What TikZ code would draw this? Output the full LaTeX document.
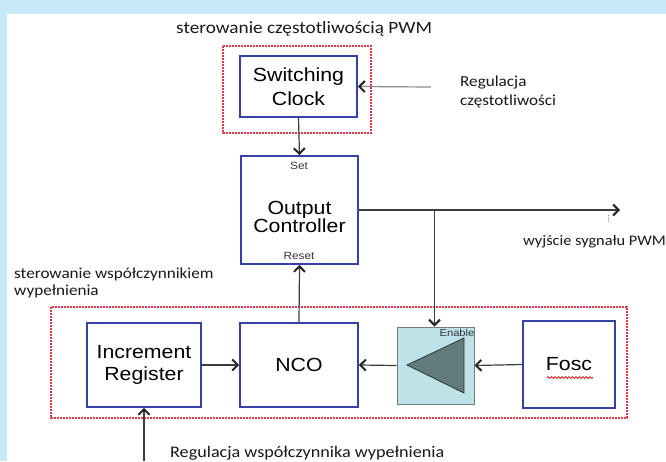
\documentclass[tikz,border=0pt]{standalone}
\usepackage{fontspec}
\setmainfont{Liberation Sans}
\newfontfamily\boxfont[FakeStretch=1.12]{Liberation Sans}
\newfontfamily\notefont[FakeStretch=1.12]{Carlito}
\usetikzlibrary{arrows.meta,decorations.pathmorphing}

\definecolor{bgblue}{RGB}{199,233,248}
\definecolor{boxblue}{RGB}{55,65,165}
\definecolor{groupred}{RGB}{232,55,65}
\definecolor{linkgray}{RGB}{60,60,60}
\definecolor{feedgray}{RGB}{140,140,140}
\definecolor{ampfill}{RGB}{190,226,232}
\definecolor{ampedge}{RGB}{110,125,125}
\definecolor{trifill}{RGB}{98,124,124}
\definecolor{tridark}{RGB}{45,55,55}
\definecolor{notetext}{RGB}{25,25,25}

\begin{document}
\begin{tikzpicture}[x=1pt,y=-1pt,
  block/.style={draw=boxblue, line width=1.8pt, fill=white, inner sep=0pt,
    align=center, text=black},
  blocktext/.style={font=\boxfont\fontsize{19}{#1}\selectfont},
  group/.style={draw=groupred, line width=1.8pt, dash pattern=on 2pt off 1pt},
  link/.style={draw=linkgray, line width=1.2pt,
    -{Straight Barb[length=5.5pt,width=11pt,line width=2pt,color=black!85]}},
  note/.style={font=\notefont\fontsize{#1}{18}\selectfont, text=notetext,
    inner sep=0pt, anchor=base west},
  tag/.style={font=\boxfont\fontsize{10.5}{12}\selectfont, text=black!80,
    inner sep=0pt}]

% page background and frame
\fill[bgblue] (0,0) rectangle (666,461);
\fill[white] (7,14) rectangle (666,461);
\useasboundingbox (0,0) rectangle (666,461);

% dashed group frames
\draw[group] (223,46) rectangle (371,133);
\draw[group] (51,307) rectangle (627,418);

% blocks
\node[block, blocktext=24, minimum width=117pt, minimum height=61pt]
  (clk) at (298.5,86.5) {Switching\\Clock};
\node[block, minimum width=117pt, minimum height=108pt]
  (oc) at (299.5,210) {};
\node[blocktext=17, align=center, inner sep=0pt] (octxt) at (299.5,217)
  {Output\\Controller};
\node[tag] (set) at (299,166) {Set};
\node[tag] (reset) at (299,256) {Reset};

\node[block, blocktext=21.3, minimum width=114pt, minimum height=84pt]
  (ir) at (144,365) {Increment\\Register};
\node[block, blocktext=21, minimum width=118pt, minimum height=84pt]
  (nco) at (299,365) {NCO};
\node[block, blocktext=21, minimum width=92pt, minimum height=87pt]
  (fosc) at (569,364.5) {Fosc};

% enable gate
\node[draw=ampedge, fill=ampfill, line width=1pt, minimum width=77pt,
  minimum height=77pt, inner sep=0pt] (en) at (435.5,365.5) {};
\filldraw[fill=trifill, draw=tridark, line width=0.8pt]
  (407,365) -- (464,338) -- (464,393) -- cycle;
\node[tag, text=tridark, font=\boxfont\fontsize{10}{12}\selectfont]
  (entag) at (457,333) {Enable};

% spell-check underline under Fosc
\draw[red!85!black, line width=0.7pt, decorate,
  decoration={snake, amplitude=0.9pt, segment length=3.5pt}]
  (547,377.5) -- (593,377.5);

% connectors
\coordinate (fin) at (431,87);
\coordinate (outtip) at (620,210);
\coordinate (br) at (434.5,210);
\coordinate (dcin) at (144,461);

\draw[link, draw=feedgray] (fin) -- (clk.east);
\draw[link] (clk.south) -- (oc.north);
\draw[link] (nco.north) -- (oc.south);
\draw[link] (oc.east) -- (outtip);
\draw[link] (br) -- (br |- en.north);
\draw[link] (ir.east) -- (nco.west);
\draw[link] (en.west) -- (nco.east);
\draw[link] (fosc.west) -- (en.east);
\draw[link] (dcin) -- (ir.south);
\draw[feedgray, line width=0.6pt, dash pattern=on 1pt off 1pt]
  (608,215) -- (608,222);

% labels
\node[note=17.2] (ltop) at (176,33.5) {sterowanie częstotliwością PWM};
\node[note=15.3] (lfa) at (460,86.7) {Regulacja};
\node[note=15.3] (lfb) at (460,105) {częstotliwości};
\node[note=14.6] (lout) at (523,245) {wyjście sygnału PWM};
\node[note=15.3] (lda) at (14,278.3) {sterowanie współczynnikiem};
\node[note=15.3] (ldb) at (14,295.7) {wypełnienia};
\node[note=16.2] (ldc) at (170,457) {Regulacja współczynnika wypełnienia};
\end{tikzpicture}
\end{document}
